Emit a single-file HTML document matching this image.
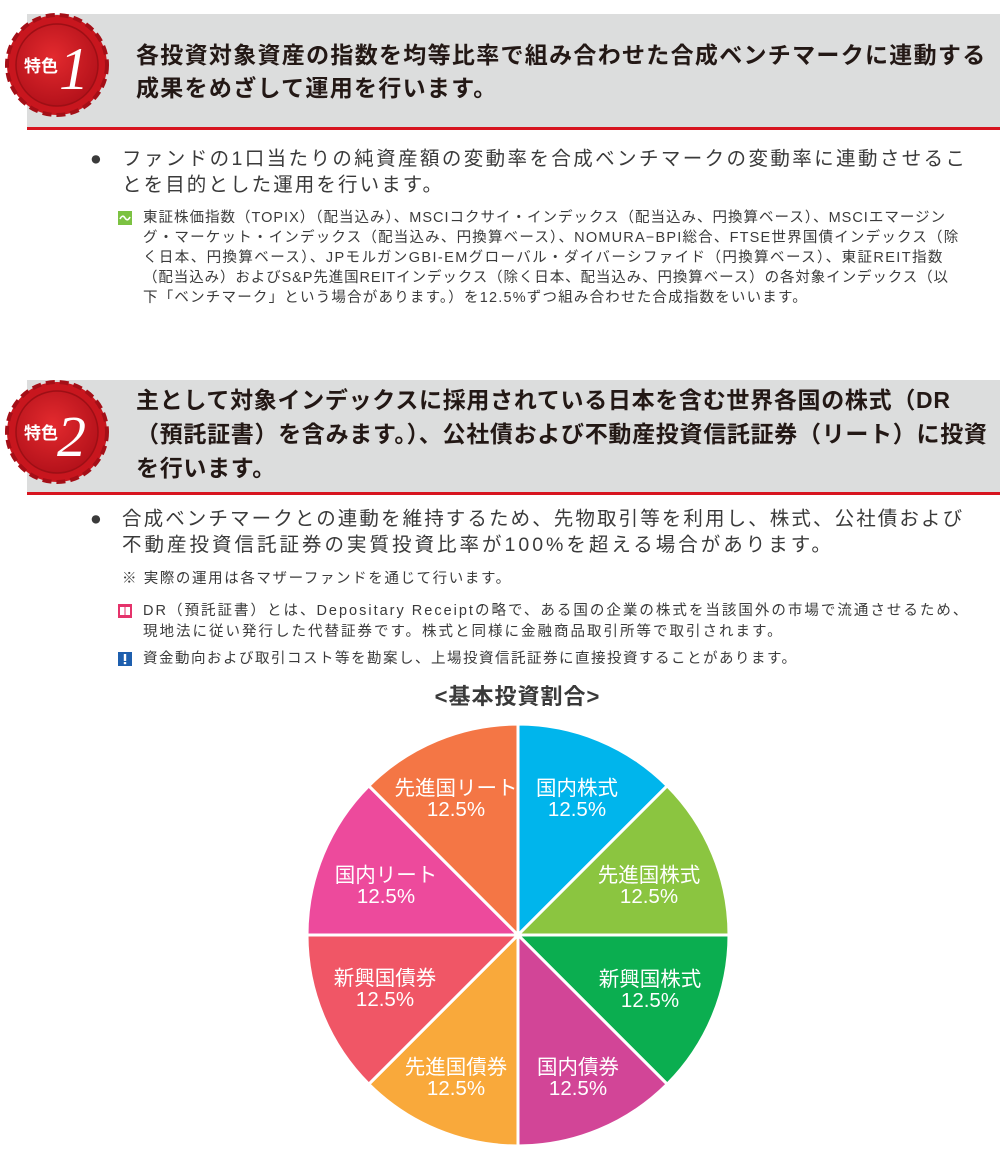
<!DOCTYPE html>
<html><head><meta charset="utf-8"><style>
body{margin:0;width:1000px;height:1157px;background:#fff;position:relative;overflow:hidden;font-family:"Liberation Sans","Noto Sans CJK JP",sans-serif;color:#3a3a3a}
.l{position:absolute;white-space:nowrap;line-height:1}
.band{position:absolute;left:27px;width:973px;background:#dcdddd;border-bottom:3px solid #d7141f}
.h{font-weight:bold;font-size:23px;color:#231815}
.b{font-size:19.5px}
.s{font-size:14.5px}
.ic{position:absolute;width:14px;height:14px}
</style></head><body>
<div class="band" style="top:14px;height:113px"></div>
<div class="band" style="top:380px;height:112px"></div>

<svg style="position:absolute;left:0;top:0" width="130" height="520">
<defs><radialGradient id="g" cx="45%" cy="40%" r="60%"><stop offset="0" stop-color="#e32a2e"/><stop offset="1" stop-color="#b5121b"/></radialGradient></defs>
<g transform="translate(57,65)">
<circle r="50" fill="#c8161e" stroke="#a40f17" stroke-width="4" stroke-dasharray="9 5"/>
<circle r="41" fill="url(#g)" stroke="#9d0f15" stroke-width="1.5"/>
<text x="-33" y="7" font-size="17" font-weight="bold" fill="#fff" font-family="Liberation Sans,Noto Sans CJK JP,sans-serif">特色</text>
<text x="2" y="24" font-size="60" font-style="italic" fill="#fff" font-family="Liberation Serif,serif">1</text>
</g>
<g transform="translate(57,432)">
<circle r="50" fill="#c8161e" stroke="#a40f17" stroke-width="4" stroke-dasharray="9 5"/>
<circle r="41" fill="url(#g)" stroke="#9d0f15" stroke-width="1.5"/>
<text x="-33" y="7" font-size="17" font-weight="bold" fill="#fff" font-family="Liberation Sans,Noto Sans CJK JP,sans-serif">特色</text>
<text x="0" y="24" font-size="58" font-style="italic" fill="#fff" font-family="Liberation Serif,serif">2</text>
</g>
</svg>

<div class="l h" style="left:136px;top:44px;letter-spacing:1.3px">各投資対象資産の指数を均等比率で組み合わせた合成ベンチマークに連動する</div>
<div class="l h" style="left:136px;top:77px;letter-spacing:1.3px">成果をめざして運用を行います。</div>

<div class="l b" style="left:90px;top:150px">●</div>
<div class="l b" style="left:122px;top:150px;letter-spacing:2.4px">ファンドの1口当たりの純資産額の変動率を合成ベンチマークの変動率に連動させるこ</div>
<div class="l b" style="left:122px;top:176px;letter-spacing:2.1px">とを目的とした運用を行います。</div>

<svg class="ic" style="left:118px;top:211px" viewBox="0 0 14 14"><rect width="14" height="14" fill="#7cc242"/><path d="M2 8 Q4.5 3 7 7 T12 6" stroke="#fff" stroke-width="1.6" fill="none"/></svg>
<div class="l s" style="left:143px;top:211px;letter-spacing:1px">東証株価指数（TOPIX）（配当込み）、MSCIコクサイ・インデックス（配当込み、円換算ベース）、MSCIエマージン</div>
<div class="l s" style="left:143px;top:231px;letter-spacing:1.2px">グ・マーケット・インデックス（配当込み、円換算ベース）、NOMURA−BPI総合、FTSE世界国債インデックス（除</div>
<div class="l s" style="left:143px;top:251px;letter-spacing:1.4px">く日本、円換算ベース）、JPモルガンGBI-EMグローバル・ダイバーシファイド（円換算ベース）、東証REIT指数</div>
<div class="l s" style="left:143px;top:271px;letter-spacing:0.9px">（配当込み）およびS&amp;P先進国REITインデックス（除く日本、配当込み、円換算ベース）の各対象インデックス（以</div>
<div class="l s" style="left:143px;top:291px;letter-spacing:1.2px">下「ベンチマーク」という場合があります。）を12.5%ずつ組み合わせた合成指数をいいます。</div>

<div class="l h" style="left:136px;top:389px;letter-spacing:0.7px">主として対象インデックスに採用されている日本を含む世界各国の株式（DR</div>
<div class="l h" style="left:136px;top:423px;letter-spacing:0.7px">（預託証書）を含みます。）、公社債および不動産投資信託証券（リート）に投資</div>
<div class="l h" style="left:136px;top:457px;letter-spacing:0.7px">を行います。</div>

<div class="l b" style="left:90px;top:510px">●</div>
<div class="l b" style="left:122px;top:510px;letter-spacing:2.1px">合成ベンチマークとの連動を維持するため、先物取引等を利用し、株式、公社債および</div>
<div class="l b" style="left:122px;top:536px;letter-spacing:3px">不動産投資信託証券の実質投資比率が100%を超える場合があります。</div>

<div class="l s" style="left:122px;top:572px;letter-spacing:1.6px">※ 実際の運用は各マザーファンドを通じて行います。</div>
<svg class="ic" style="left:118px;top:604px" viewBox="0 0 14 14"><rect width="14" height="14" fill="#e5336b"/><rect x="2" y="3" width="4.5" height="8" fill="#fff"/><rect x="7.5" y="3" width="4.5" height="8" fill="#fff"/></svg>
<div class="l s" style="left:143px;top:604px;letter-spacing:2px">DR（預託証書）とは、Depositary Receiptの略で、ある国の企業の株式を当該国外の市場で流通させるため、</div>
<div class="l s" style="left:143px;top:625px;letter-spacing:2px">現地法に従い発行した代替証券です。株式と同様に金融商品取引所等で取引されます。</div>
<svg class="ic" style="left:118px;top:652px" viewBox="0 0 14 14"><rect width="14" height="14" fill="#1e5fae"/><rect x="5.8" y="2" width="2.4" height="7" fill="#fff"/><rect x="5.8" y="10" width="2.4" height="2.2" fill="#fff"/></svg>
<div class="l s" style="left:143px;top:652px;letter-spacing:1.5px">資金動向および取引コスト等を勘案し、上場投資信託証券に直接投資することがあります。</div>

<div class="l" style="left:0;width:1035px;text-align:center;top:686px;font-size:22px;font-weight:bold;color:#3a3a3a;letter-spacing:1px">&lt;基本投資割合&gt;</div>

<svg style="position:absolute;left:0;top:0" width="1000" height="1157" font-family="Liberation Sans,Noto Sans CJK JP,sans-serif" font-size="20.5" fill="#fff" text-anchor="middle">
<g stroke="#fff" stroke-width="3" stroke-linejoin="round">
<path d="M518 935 L518 724 A211 211 0 0 1 667.2 785.8Z" fill="#00b5ec"/>
<path d="M518 935 L667.2 785.8 A211 211 0 0 1 729 935Z" fill="#8bc540"/>
<path d="M518 935 L729 935 A211 211 0 0 1 667.2 1084.2Z" fill="#0bae50"/>
<path d="M518 935 L667.2 1084.2 A211 211 0 0 1 518 1146Z" fill="#d24597"/>
<path d="M518 935 L518 1146 A211 211 0 0 1 368.8 1084.2Z" fill="#f9a93b"/>
<path d="M518 935 L368.8 1084.2 A211 211 0 0 1 307 935Z" fill="#f05666"/>
<path d="M518 935 L307 935 A211 211 0 0 1 368.8 785.8Z" fill="#ed4a9c"/>
<path d="M518 935 L368.8 785.8 A211 211 0 0 1 518 724Z" fill="#f47645"/>
</g>
<text x="577" y="795">国内株式</text><text x="577" y="816">12.5%</text>
<text x="649" y="882">先進国株式</text><text x="649" y="903">12.5%</text>
<text x="650" y="986">新興国株式</text><text x="650" y="1007">12.5%</text>
<text x="578" y="1074">国内債券</text><text x="578" y="1095">12.5%</text>
<text x="456" y="1074">先進国債券</text><text x="456" y="1095">12.5%</text>
<text x="385" y="985">新興国債券</text><text x="385" y="1006">12.5%</text>
<text x="386" y="882">国内リート</text><text x="386" y="903">12.5%</text>
<text x="456" y="795">先進国リート</text><text x="456" y="816">12.5%</text>
</svg>
</body></html>
